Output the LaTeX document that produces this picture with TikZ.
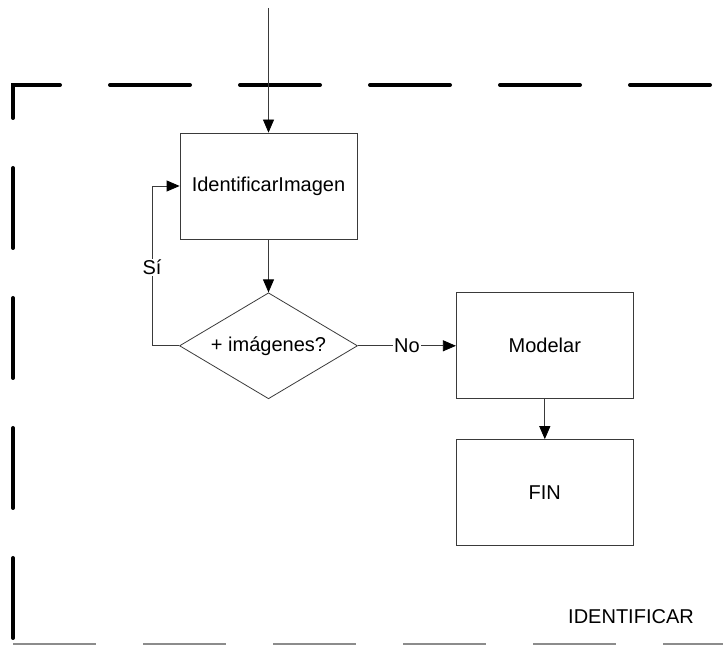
\documentclass[tikz,border=0pt]{standalone}
\usepackage{fontspec}
\setmainfont{Liberation Sans}
\usetikzlibrary{arrows.meta,positioning,shapes.geometric}
\definecolor{flowGray}{HTML}{3A3A3A}
\definecolor{edgeGray}{HTML}{8C8C8C}

\begin{document}
\begin{tikzpicture}[x=1pt,y=1pt,
  procBox/.style  ={rectangle, draw=flowGray, line width=0.8pt, minimum width=177pt, minimum height=106pt, inner sep=0pt, font=\fontsize{20}{24}\selectfont},
  decBox/.style   ={diamond, aspect=1.68, draw=flowGray, line width=0.8pt, minimum width=178pt, minimum height=106pt, inner sep=0pt, font=\fontsize{20}{24}\selectfont},
  flowArrow/.style={draw=flowGray, line width=0.8pt, -{Triangle[length=13pt,width=11pt,color=black]}},
  flowLabel/.style={fill=white, inner sep=1pt, font=\fontsize{20}{24}\selectfont},
  laneBorder/.style={black, line width=4pt, line cap=round, dash pattern=on 80pt off 50pt},
]
\useasboundingbox (0,0) rectangle (723,645);

% swimlane border (left and top), bottom edge shows only as a thin line
\draw[laneBorder] (13,7) -- (13,560) -- (740,560);
\draw[edgeGray, line width=1.2pt, dash pattern=on 83pt off 47pt] (13,1) -- (723,1);
\node[font=\fontsize{20}{24}\selectfont] (laneTitle) at (631,28) {IDENTIFICAR};

% process steps
\node[procBox] (ident) at (268.5,459) {IdentificarImagen};
\node[decBox, below=53pt of ident] (decide) {+ imágenes?};
\node[procBox, right=98pt of decide] (modelar) {Modelar};
\node[procBox, below=40pt of modelar] (fin) {FIN};

% connectors
\coordinate (entry) at (268.5,637);
\draw[flowArrow] (entry) -- (ident.north);
\draw[flowArrow] (ident.south) -- (decide.north);
\draw[flowArrow] (decide.west) -- ++(-27,0) |- node[pos=0.245, flowLabel] {Sí} (ident.west);
\draw[flowArrow] (decide.east) -- node[flowLabel] {No} (modelar.west);
\draw[flowArrow] (modelar.south) -- (fin.north);
\end{tikzpicture}
\end{document}
